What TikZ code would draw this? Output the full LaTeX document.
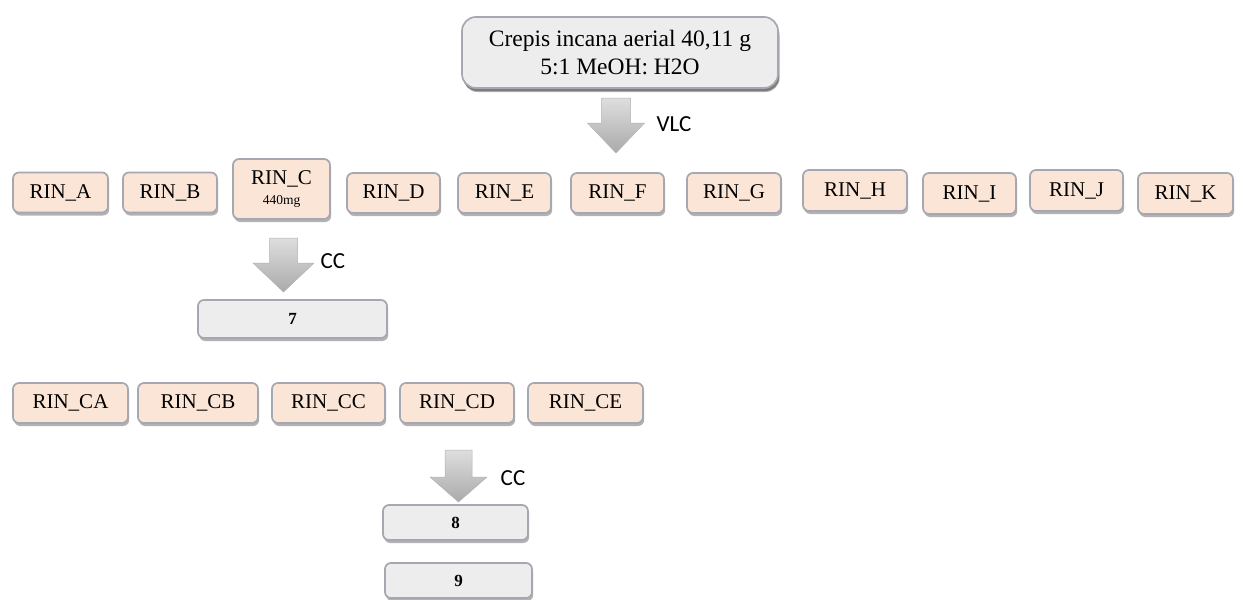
\documentclass[tikz,border=0pt]{standalone}
\usepackage{fontspec}
\setmainfont{Liberation Serif}
\newfontfamily\calibrifont{Carlito}
\usetikzlibrary{shadows}
\definecolor{peach}{RGB}{251,229,214}
\definecolor{boxgray}{RGB}{237,237,237}
\definecolor{edgegray}{RGB}{165,168,176}
\definecolor{arrowlight}{RGB}{222,222,222}
\definecolor{arrowdark}{RGB}{170,170,170}
\tikzset{
  basebox/.style={draw=edgegray, line width=1.7pt, rounded corners=6pt, inner sep=0pt,
    align=center,
    drop shadow={shadow xshift=1.2pt, shadow yshift=-3pt, fill=black, opacity=0.3}},
  rinbox/.style={basebox, fill=peach, minimum height=40pt,
    font=\fontsize{21}{24}\selectfont},
  numbox/.style={basebox, fill=boxgray, minimum height=36pt,
    font=\fontsize{17}{20}\selectfont\bfseries},
  topbox/.style={basebox, fill=boxgray, rounded corners=14pt,
    drop shadow={shadow xshift=1.5pt, shadow yshift=-4pt, fill=black, opacity=0.3},
    font=\fontsize{23.5}{28}\selectfont},
  blockarrow/.style={top color=arrowlight, bottom color=arrowdark, draw=arrowdark!90, line width=0.5pt},
  steplabel/.style={font=\calibrifont\fontsize{23}{26}\selectfont, inner sep=0pt}
}
\begin{document}
\begin{tikzpicture}[x=1pt,y=-1pt]
\useasboundingbox (0,0) rectangle (1243,600);

% top box
\node[topbox, minimum width=316pt, minimum height=71pt] (top) at (620,52.5)
  {Crepis incana aerial 40,11 g\\5:1 MeOH: H2O};

% VLC arrow
\coordinate (va) at (616,98);
\path[blockarrow] ([xshift=-14.5pt]va) -- ([xshift=14.5pt]va) -- ++(0,25) -- ++(14,0)
  -- (616,153) -- (587.5,123) -- (601.5,123) -- cycle;
\node[steplabel] (vlc) at (674,124) {VLC};

% row 1
\node[rinbox, minimum width=95pt] (A) at (60.5,192.5) {RIN\_A};
\node[rinbox, minimum width=94pt] (B) at (170,192.5) {RIN\_B};
\node[rinbox, minimum width=97pt, minimum height=60pt] (C) at (281.5,189)
  {RIN\_C\\[-4pt]{\fontsize{13.5}{14}\selectfont 440mg}};
\node[rinbox, minimum width=93pt] (D) at (393.5,193) {RIN\_D};
\node[rinbox, minimum width=93pt] (E) at (504.5,193) {RIN\_E};
\node[rinbox, minimum width=93pt] (F) at (617.5,193) {RIN\_F};
\node[rinbox, minimum width=94pt] (G) at (734,193) {RIN\_G};
\node[rinbox, minimum width=104pt, minimum height=41pt] (H) at (855,190.5) {RIN\_H};
\node[rinbox, minimum width=93pt, minimum height=41pt] (I) at (969.5,193.5) {RIN\_I};
\node[rinbox, minimum width=93pt, minimum height=41pt] (J) at (1076.5,190.5) {RIN\_J};
\node[rinbox, minimum width=95pt, minimum height=41pt] (K) at (1185.5,193.5) {RIN\_K};

% CC arrow 1
\coordinate (ca) at (283.5,238);
\path[blockarrow] ([xshift=-14pt]ca) -- ([xshift=14pt]ca) -- ++(0,25) -- ++(16.5,0)
  -- (283.5,292) -- (253,263) -- (269.5,263) -- cycle;
\node[steplabel] (cc1) at (333,261.5) {CC};

% box 7
\node[numbox, minimum width=189pt, minimum height=38pt] (n7) at (292.5,319) {7};

% row 2
\node[rinbox, minimum width=115pt] (CA) at (70.5,403) {RIN\_CA};
\node[rinbox, minimum width=120pt] (CB) at (198,403) {RIN\_CB};
\node[rinbox, minimum width=113pt] (CC) at (328.5,403) {RIN\_CC};
\node[rinbox, minimum width=114pt] (CD) at (457,403) {RIN\_CD};
\node[rinbox, minimum width=115pt] (CE) at (585.5,403) {RIN\_CE};

% CC arrow 2
\coordinate (cb) at (458.5,450);
\path[blockarrow] ([xshift=-13.5pt]cb) -- ([xshift=13.5pt]cb) -- ++(0,27) -- ++(15,0)
  -- (458.5,502) -- (430,477) -- (445,477) -- cycle;
\node[steplabel] (cc2) at (513,478) {CC};

% boxes 8 and 9
\node[numbox, minimum width=145pt, minimum height=35pt] (n8) at (455.5,522.5) {8};
\node[numbox, minimum width=147pt, minimum height=35pt] (n9) at (458.5,580.5) {9};
\end{tikzpicture}
\end{document}
